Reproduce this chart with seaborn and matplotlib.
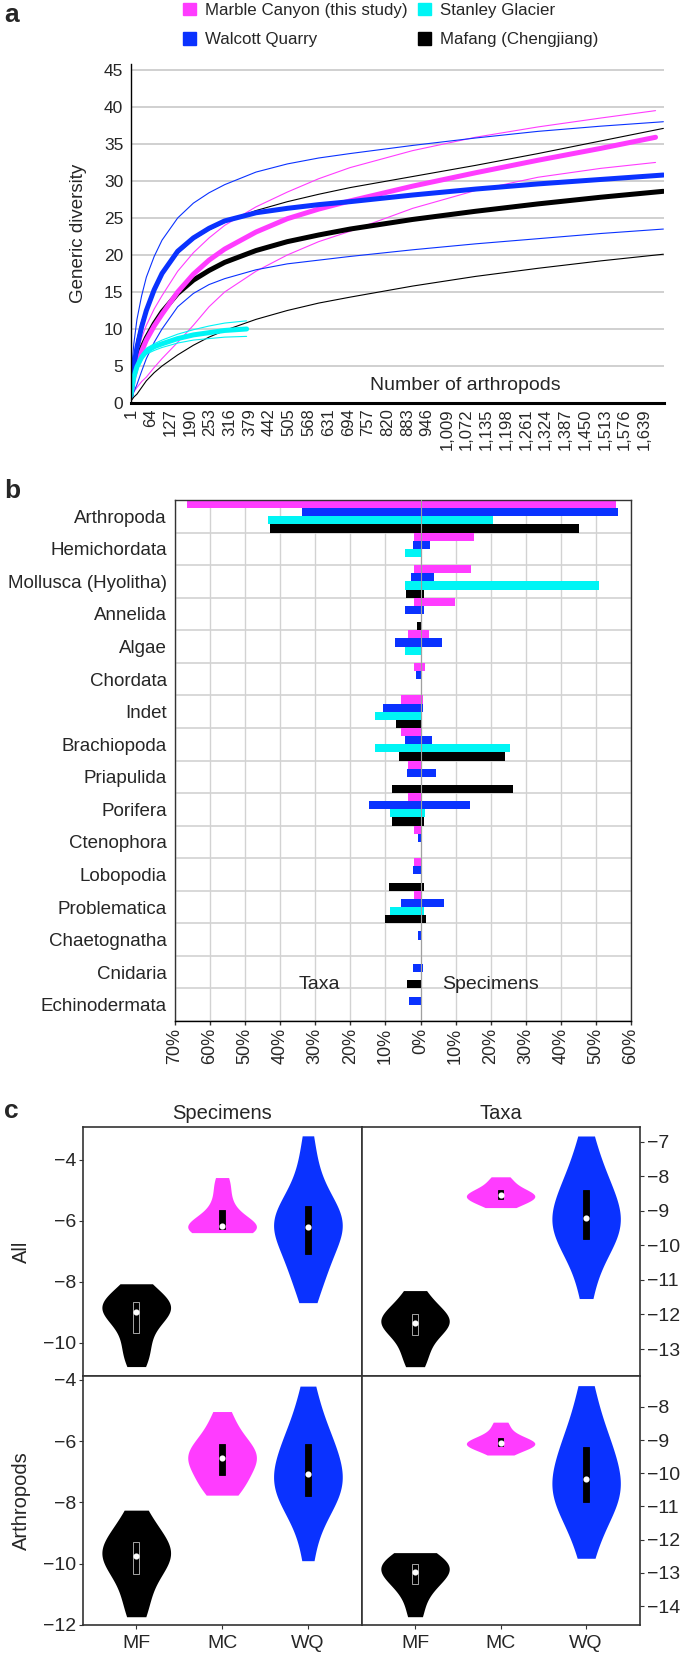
# %% Import packages

import pandas as pd
import seaborn as sns
import matplotlib.pyplot as plt
from matplotlib.patches import Patch

# %% Set constants

PINK = '#ff3cff'
BLUE = '#0a32ff'
CYAN = '#00f5f5'
BLACK = '#000000'

# panel a: rarefaction curves (mean and confidence bounds)
X_RARE = [1, 5, 10, 20, 35, 50, 75, 100, 150, 200, 250, 300, 400, 500, 600, 700, 900, 1100, 1300, 1500, 1700]
X_MC = [1, 5, 10, 20, 35, 50, 75, 100, 150, 200, 250, 300, 400, 500, 600, 700, 900, 1100, 1300, 1500, 1675]
X_SG = [1, 5, 10, 20, 35, 50, 75, 100, 150, 200, 250, 300, 370]

MC_MEAN = [1, 2.2, 3.5, 5.2, 7.0, 8.5, 10.4, 12.0, 15.0, 17.4, 19.3, 20.8, 23.1, 24.9, 26.2, 27.3, 29.3, 31.1, 32.8, 34.4, 35.9]
MC_UP = [1.5, 3, 4.5, 6.6, 8.8, 10.5, 12.7, 14.5, 17.8, 20.3, 22.3, 24.0, 26.5, 28.5, 30.3, 31.8, 34.1, 35.9, 37.3, 38.5, 39.5]
MC_LOW = [0.5, 1, 1.5, 2.1, 2.9, 3.5, 4.8, 6.0, 8.2, 10.5, 13.0, 15.0, 17.8, 20.0, 21.8, 23.2, 26.3, 28.7, 30.5, 31.7, 32.5]

WQ_MEAN = [1, 3.2, 5, 7.5, 10.3, 12.5, 15.3, 17.5, 20.5, 22.3, 23.6, 24.6, 25.7, 26.3, 26.8, 27.2, 28.1, 28.9, 29.6, 30.2, 30.8]
WQ_UP = [3, 5.5, 8, 11.3, 14.5, 17, 19.8, 22, 25, 27, 28.4, 29.5, 31.2, 32.3, 33.1, 33.7, 34.8, 35.8, 36.7, 37.4, 38]
WQ_LOW = [0.5, 0.9, 1.5, 2.5, 4.3, 6, 8.2, 10, 13, 14.8, 16, 16.8, 18, 18.8, 19.3, 19.8, 20.7, 21.5, 22.2, 22.9, 23.5]

MF_MEAN = [1, 2.7, 4, 5.7, 7.4, 8.8, 10.7, 12.3, 14.8, 16.6, 17.9, 19.0, 20.6, 21.8, 22.7, 23.5, 24.8, 25.9, 26.9, 27.8, 28.6]
MF_UP = [2, 4, 6, 8.5, 11, 12.8, 15.3, 17.3, 20.2, 22.1, 23.4, 24.4, 26, 27.2, 28.2, 29.1, 30.6, 32.1, 33.7, 35.4, 37.1]
MF_LOW = [0.3, 0.5, 0.8, 1.2, 2.1, 3, 4.1, 5, 6.5, 7.8, 8.9, 9.8, 11.3, 12.5, 13.5, 14.3, 15.8, 17.1, 18.2, 19.2, 20.1]

SG_MEAN = [1, 2.3, 3.5, 4.9, 6.2, 7.0, 7.6, 8.0, 8.7, 9.2, 9.5, 9.8, 10]
SG_UP = [1, 2.5, 3.8, 5.3, 6.6, 7.4, 8.0, 8.5, 9.3, 9.9, 10.4, 10.8, 11.1]
SG_LOW = [1, 2.1, 3.2, 4.5, 5.8, 6.6, 7.1, 7.5, 8.1, 8.5, 8.7, 8.9, 9]

X_TICKS_A = list(range(1, 1640, 63))

# panel b: percentage of taxa (left) and specimens (right)
PHYLA = ['Arthropoda', 'Hemichordata', 'Mollusca (Hyolitha)', 'Annelida', 'Algae', 'Chordata',
         'Indet', 'Brachiopoda', 'Priapulida', 'Porifera', 'Ctenophora', 'Lobopodia',
         'Problematica', 'Chaetognatha', 'Cnidaria', 'Echinodermata']
SITES_B = ['Marble Canyon', 'Walcott Quarry', 'Stanley Glacier', 'Mafang']

TAXA_MC = [66.5, 1.9, 1.9, 1.9, 3.6, 1.9, 5.6, 5.6, 3.7, 3.7, 1.9, 1.9, 1.9, 0, 0, 0]
SPEC_MC = [55.8, 15.3, 14.4, 9.7, 2.5, 1.4, 0.6, 0.2, 0, 0, 0, 0.1, 0, 0, 0, 0]
TAXA_WQ = [33.9, 2.2, 2.7, 4.5, 7.3, 1.2, 10.7, 4.5, 4.0, 14.6, 0.6, 2.2, 5.6, 0.6, 2.2, 3.4]
SPEC_WQ = [56.3, 2.6, 3.9, 1.0, 6.2, 0, 0.7, 3.2, 4.5, 14.2, 0, 0.2, 6.6, 0, 0.6, 0]
TAXA_SG = [43.5, 4.4, 4.4, 0, 4.4, 0, 13.1, 13.1, 0, 8.7, 0, 0, 8.8, 0, 0, 0]
SPEC_SG = [20.7, 0.4, 50.8, 0, 0.4, 0, 0.4, 25.4, 0, 1.4, 0, 0, 1.0, 0, 0, 0]
TAXA_MF = [43.0, 0, 4.1, 0.9, 0, 0, 7.1, 6.1, 8.1, 8.1, 0, 9.1, 10.1, 0, 4.0, 0]
SPEC_MF = [45.1, 0, 1.0, 0.1, 0, 0, 0, 24.2, 26.3, 1.1, 0, 1.0, 1.5, 0, 0.4, 0]

# panel c: violin samples (log values)
SITES_C = ['MF', 'MC', 'WQ']

SPEC_ALL_MF = [-8.07, -8.3, -8.5, -8.6, -8.7, -8.8, -8.9, -9.0, -9.0, -9.1, -9.3, -9.6, -9.9, -10.2, -10.5, -10.79]
SPEC_ALL_MC = [-6.39, -6.35, -6.3, -6.28, -6.25, -6.22, -6.2, -6.15, -6.0, -5.8, -5.6, -5.3, -4.9, -4.58]
SPEC_ALL_WQ = [-8.69, -8.2, -7.8, -7.5, -7.3, -7.1, -6.8, -6.5, -6.35, -6.25, -6.2, -6.1, -6.0, -5.85,
               -5.7, -5.5, -5.3, -5.0, -4.6, -4.0, -3.21]

TAXA_ALL_MF = [-11.31, -11.6, -11.85, -12.0, -12.1, -12.2, -12.24, -12.3, -12.4, -12.6, -12.9, -13.2, -13.51]
TAXA_ALL_MC = [-8.02, -8.2, -8.35, -8.45, -8.5, -8.56, -8.6, -8.65, -8.7, -8.8, -8.91]
TAXA_ALL_WQ = [-6.84, -7.4, -7.8, -8.1, -8.3, -8.5, -8.7, -8.9, -9.05, -9.2, -9.3, -9.45, -9.6, -9.75,
               -9.9, -10.1, -10.4, -10.8, -11.54]

SPEC_ART_MF = [-8.25, -8.7, -9.0, -9.25, -9.4, -9.55, -9.69, -9.8, -9.95, -10.15, -10.4, -10.8, -11.3, -11.73]
SPEC_ART_MC = [-5.03, -5.5, -5.85, -6.05, -6.25, -6.4, -6.5, -6.58, -6.7, -6.9, -7.15, -7.35, -7.55, -7.76]
SPEC_ART_WQ = [-4.2, -4.9, -5.4, -5.8, -6.0, -6.2, -6.45, -6.7, -6.9, -7.07, -7.25, -7.4, -7.55, -7.7,
               -7.85, -8.1, -8.4, -8.9, -9.9]

TAXA_ART_MF = [-12.39, -12.55, -12.66, -12.78, -12.88, -12.98, -13.1, -13.25, -13.45, -13.8, -14.32]
TAXA_ART_MC = [-8.46, -8.7, -8.9, -8.97, -9.05, -9.1, -9.13, -9.15, -9.2, -9.3, -9.45]
TAXA_ART_WQ = [-7.36, -8.0, -8.5, -8.9, -9.1, -9.3, -9.55, -9.8, -10.0, -10.18, -10.35, -10.5, -10.65,
               -10.8, -10.95, -11.2, -11.5, -11.9, -12.56]

# %% Set figure aesthetics

sns.set_style('white')
plt.rcParams['font.family'] = ['Liberation Sans', 'DejaVu Sans']
plt.rcParams['axes.unicode_minus'] = True

W, H = 685, 1657
fig = plt.figure(figsize=(W / 100, H / 100), dpi=100)


def box(l, t, r, b):
    return [l / W, 1 - b / H, (r - l) / W, (b - t) / H]


# %% Panel a: rarefaction curves

axa = fig.add_axes(box(131, 64, 664, 403))
thin = [(X_MC, MC_UP, PINK), (X_MC, MC_LOW, PINK), (X_RARE, WQ_UP, BLUE), (X_RARE, WQ_LOW, BLUE),
        (X_RARE, MF_UP, BLACK), (X_RARE, MF_LOW, BLACK), (X_SG, SG_UP, CYAN), (X_SG, SG_LOW, CYAN)]
for xs, ys, c in thin:
    sns.lineplot(x=xs, y=ys, color=c, lw=0.8, ax=axa)
thick = [(X_RARE, MF_MEAN, BLACK), (X_MC, MC_MEAN, PINK), (X_RARE, WQ_MEAN, BLUE), (X_SG, SG_MEAN, CYAN)]
for xs, ys, c in thick:
    sns.lineplot(x=xs, y=ys, color=c, lw=3.6, ax=axa)

axa.set_xlim(1, 1702)
axa.set_ylim(0, 45.8)
axa.set_yticks(range(0, 46, 5))
axa.set_xticks(X_TICKS_A)
axa.set_xticklabels([f'{v:,}' for v in X_TICKS_A], rotation=90, fontsize=12)
axa.tick_params(axis='y', labelsize=12.5, direction='inout', length=5, width=1, pad=3)
axa.tick_params(axis='x', length=0, pad=4)
axa.grid(axis='y', color='#c8c8c8', lw=1.2)
axa.set_axisbelow(True)
for s in ['top', 'right']:
    axa.spines[s].set_visible(False)
axa.spines['left'].set_color('black')
axa.spines['left'].set_linewidth(1)
axa.spines['bottom'].set_color('black')
axa.spines['bottom'].set_linewidth(2.2)
axa.set_ylabel('Generic diversity', fontsize=13.5)
axa.yaxis.set_label_coords(-0.082, 0.5)
axa.text(1067, 2.3, 'Number of arthropods', ha='center', va='center', fontsize=14)

handles = [Patch(color=PINK, label='Marble Canyon (this study)'),
           Patch(color=BLUE, label='Walcott Quarry'),
           Patch(color=CYAN, label='Stanley Glacier'),
           Patch(color=BLACK, label='Mafang (Chengjiang)')]
fig.legend(handles=handles, ncol=2, loc='upper left', bbox_to_anchor=(181 / W, 1 - 1 / H),
           frameon=False, fontsize=12.2, handlelength=0.8, handleheight=0.75,
           handletextpad=0.5, columnspacing=0.6, labelspacing=0.85, borderpad=0.1,
           borderaxespad=0)

# %% Panel b: diverging bars, taxa to the left, specimens to the right

rows = []
for site, tx, sp in zip(SITES_B, [TAXA_MC, TAXA_WQ, TAXA_SG, TAXA_MF], [SPEC_MC, SPEC_WQ, SPEC_SG, SPEC_MF]):
    for ph, t, s in zip(PHYLA, tx, sp):
        rows.append({'phylum': ph, 'site': site, 'taxa': -t, 'specimens': s})
df_b = pd.DataFrame(rows)
pal_b = dict(zip(SITES_B, [PINK, BLUE, CYAN, BLACK]))

axb = fig.add_axes(box(175, 500, 631, 1021))
for col in ['specimens', 'taxa']:
    sns.barplot(data=df_b, y='phylum', x=col, hue='site', order=PHYLA, hue_order=SITES_B,
                palette=pal_b, orient='h', width=1, saturation=1, errorbar=None,
                linewidth=0, legend=False, ax=axb)
axb.axvline(0, color='#a0a0a0', lw=0.8, zorder=5)
axb.set_xlim(-70, 60)
axb.set_ylim(15.5, -0.5)
xt = list(range(-70, 61, 10))
axb.set_xticks(xt)
axb.set_xticklabels([f'{abs(v)}%' for v in xt], rotation=90, fontsize=13)
axb.set_yticks([i + 0.5 for i in range(-1, 16)], minor=True)
axb.grid(axis='x', which='major', color='#d2d2d2', lw=1)
axb.grid(axis='y', which='minor', color='#d2d2d2', lw=1.2)
axb.set_axisbelow(True)
axb.tick_params(axis='y', which='both', length=0, labelsize=13.5, pad=6)
axb.tick_params(axis='x', length=3, width=1, color='#333333', pad=2, bottom=True)
axb.set_xlabel('')
axb.set_ylabel('')
for s in axb.spines.values():
    s.set_color('#333333')
    s.set_linewidth(1)
axb.spines['bottom'].set_color('black')
axb.text(-28.8, 14.38, 'Taxa', ha='center', va='center', fontsize=14)
axb.text(20, 14.38, 'Specimens', ha='center', va='center', fontsize=14)

# %% Panel c: violin plots

pal_c = dict(zip(SITES_C, [BLACK, PINK, BLUE]))
panels = [
    (box(83, 1127, 362, 1376), [SPEC_ALL_MF, SPEC_ALL_MC, SPEC_ALL_WQ], (-11.1, -2.92), [-10, -8, -6, -4]),
    (box(362, 1127, 640, 1376), [TAXA_ALL_MF, TAXA_ALL_MC, TAXA_ALL_WQ], (-13.78, -6.58), list(range(-13, -6))),
    (box(83, 1376, 362, 1625), [SPEC_ART_MF, SPEC_ART_MC, SPEC_ART_WQ], (-12, -3.87), [-12, -10, -8, -6, -4]),
    (box(362, 1376, 640, 1625), [TAXA_ART_MF, TAXA_ART_MC, TAXA_ART_WQ], (-14.57, -7.07), list(range(-14, -7))),
]
axes_c = []
for i, (rect, groups, ylim, yt) in enumerate(panels):
    ax = fig.add_axes(rect)
    df_c = pd.DataFrame([{'site': s, 'value': v} for s, g in zip(SITES_C, groups) for v in g])
    sns.violinplot(data=df_c, x='site', y='value', hue='site', order=SITES_C, palette=pal_c,
                   cut=0, density_norm='width', width=0.8, inner=None, linewidth=0,
                   saturation=1, legend=False, ax=ax)
    # inner IQR bars: grey outline on the black violin, plain black on the others
    is_mf = df_c['site'] == 'MF'
    for sub, edge in [(df_c[is_mf], '0.75'), (df_c[~is_mf], 'black')]:
        sns.boxplot(data=sub, x='site', y='value', order=SITES_C, color='black', linecolor=edge,
                    linewidth=0.6, width=0.065, whis=0, showfliers=False, showcaps=False,
                    medianprops={'linewidth': 0}, saturation=1, ax=ax)
    sns.pointplot(data=df_c, x='site', y='value', order=SITES_C, estimator='median',
                  errorbar=None, color='white', marker='o', linestyle='none',
                  markersize=2.4, ax=ax)
    ax.set_xlim(-0.62, 2.63)
    ax.set_ylim(*ylim)
    ax.set_yticks(yt)
    ax.set_xlabel('')
    ax.set_ylabel('')
    ax.tick_params(axis='both', labelsize=14, direction='out', length=3, width=0.8,
                   color='#333333', pad=2)
    for s in ax.spines.values():
        s.set_visible(True)
        s.set_color('#333333')
        s.set_linewidth(1.2)
    if i < 2:
        ax.tick_params(axis='x', bottom=False, labelbottom=False)
    else:
        ax.tick_params(axis='x', bottom=True, labelbottom=True, pad=4)
    if i % 2 == 1:
        ax.yaxis.tick_right()
        ax.tick_params(axis='y', right=True, left=False)
    else:
        ax.tick_params(axis='y', left=True)
    axes_c.append(ax)

axes_c[0].set_title('Specimens', fontsize=14.5, pad=6)
axes_c[1].set_title('Taxa', fontsize=14.5, pad=6)
axes_c[0].set_ylabel('All', fontsize=14.5)
axes_c[0].yaxis.set_label_coords(-0.185, 0.5)
axes_c[2].set_ylabel('Arthropods', fontsize=14.5)
axes_c[2].yaxis.set_label_coords(-0.185, 0.5)

# %% Panel letters

for letter, y in [('a', 15), ('b', 491), ('c', 1111)]:
    fig.text(4 / W, 1 - y / H, letter, fontsize=19, fontweight='bold', va='center', ha='left')

fig.savefig('out.png', dpi=100)
